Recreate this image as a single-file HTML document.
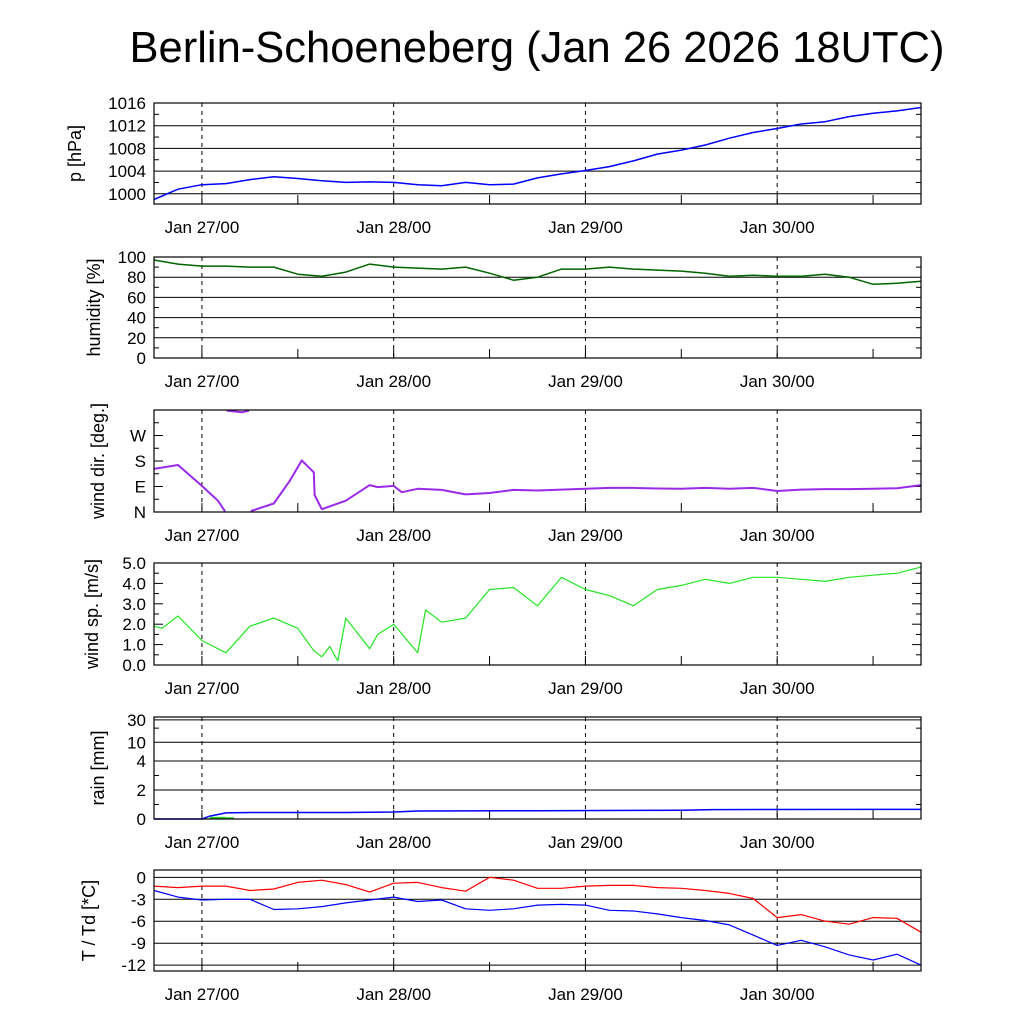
<!DOCTYPE html>
<html><head><meta charset="utf-8"><style>
body{margin:0;background:#fff;}
svg text{font-family:"Liberation Sans",sans-serif;fill:#000;}
</style></head><body>
<svg id="c" width="1024" height="1024" viewBox="0 0 1024 1024">
<text x="537" y="62" font-size="43.5" text-anchor="middle">Berlin-Schoeneberg (Jan 26 2026 18UTC)</text>
</svg>
<script>
const hours3 = [0,3,6,9,12,15,18,21,24,27,30,33,36,39,42,45,48,51,54,57,60,63,66,69,72,75,78,81,84,87,90,93,96];
const pressure = [999.0,1000.8,1001.6,1001.8,1002.5,1003.0,1002.7,1002.3,1002.0,1002.1,1002.0,1001.6,1001.4,1002.0,1001.6,1001.7,1002.8,1003.5,1004.1,1004.8,1005.8,1007.0,1007.7,1008.6,1009.8,1010.8,1011.5,1012.3,1012.7,1013.6,1014.2,1014.6,1015.2];
const humidity = [97,93,91,91,90,90,83,81,85,93,90,89,88,90,84,77,80,88,88,90,88,87,86,84,81,82,81,81,83,80,73,74,76];
const dirHours = [0,3,6,8,8.9,9.1,11,11.9,12.1,15,17,18.5,20,20.1,21,24,27,28,30,31,33,36,39,42,45,48,51,54,57,60,63,66,69,72,75,78,81,84,87,90,93,96];
const windDir = [152,166,92,40,2,358,352,358,3,30,110,182,140,60,10,40,95,88,92,70,82,78,62,67,78,76,79,82,85,85,83,82,85,82,85,74,79,81,81,82,84,95];
const spdHours = [0,1,3,6,9,12,15,18,20,21,22,23,24,27,28,30,33,34,36,39,42,45,48,51,54,57,60,63,66,69,72,75,78,81,84,87,90,93,96];
const windSpeed = [1.9,1.8,2.4,1.2,0.6,1.9,2.3,1.8,0.7,0.4,0.9,0.2,2.3,0.8,1.5,2.0,0.6,2.7,2.1,2.3,3.7,3.8,2.9,4.3,3.7,3.4,2.9,3.7,3.9,4.2,4.0,4.3,4.3,4.2,4.1,4.3,4.4,4.5,4.8];
const rainHours = [0,6,7,9,12,24,30,33,48,66,70,96];
const rainCum = [0,0,0.2,0.42,0.45,0.45,0.48,0.55,0.57,0.6,0.65,0.66];
const rainBarHours = [6,7,8,9,30,31,32,33,66];
const rainBars = [0.05,0.15,0.15,0.12,0.03,0.03,0.02,0.02,0.02];
const temp = [-1.2,-1.4,-1.2,-1.2,-1.8,-1.6,-0.7,-0.4,-1.0,-2.0,-0.8,-0.7,-1.4,-1.9,0.0,-0.4,-1.5,-1.5,-1.2,-1.1,-1.1,-1.4,-1.5,-1.8,-2.2,-2.9,-5.5,-5.1,-6.0,-6.4,-5.5,-5.6,-7.5];
const dew = [-1.8,-2.7,-3.1,-3.0,-3.0,-4.4,-4.3,-4.0,-3.5,-3.1,-2.7,-3.3,-3.1,-4.3,-4.5,-4.3,-3.8,-3.7,-3.8,-4.5,-4.6,-5.0,-5.5,-5.9,-6.5,-7.9,-9.3,-8.6,-9.5,-10.6,-11.3,-10.5,-12.0];
const dayLabels = ["Jan 27/00","Jan 28/00","Jan 29/00","Jan 30/00"];
const dayHours = [6,30,54,78];

const NS="http://www.w3.org/2000/svg", svg=document.getElementById('c');
const X0=154,X1=921,TH=96;
const xs=h=>X0+(X1-X0)*h/TH;
function el(t,a,p){const e=document.createElementNS(NS,t);for(const k in a)e.setAttribute(k,a[k]);(p||svg).appendChild(e);return e;}
function rainMap(v){ if(v<=4) return (v/4)*58/102; return (58+47*Math.log10(v/4))/102; }
const panels=[
 {n:'pressure',top:103,bot:204,lo:998.2,hi:1016,ticks:[1000,1004,1008,1012,1016],lab:['1000','1004','1008','1012','1016'],grid:true,title:'p [hPa]',tx:81,minor:[1002,1006,1010,1014]},
 {n:'humidity',top:257,bot:358,lo:0,hi:100,ticks:[0,20,40,60,80,100],lab:['0','20','40','60','80','100'],grid:true,title:'humidity [%]',tx:100,minor:[10,30,50,70,90]},
 {n:'wind-dir',top:410,bot:512,lo:0,hi:360,ticks:[0,90,180,270],lab:['N','E','S','W'],grid:false,title:'wind dir. [deg.]',tx:104,minor:[45,135,225,315]},
 {n:'wind-speed',top:563,bot:665,lo:0,hi:5,ticks:[0,1,2,3,4,5],lab:['0.0','1.0','2.0','3.0','4.0','5.0'],grid:false,title:'wind sp. [m/s]',tx:98,minor:[0.5,1.5,2.5,3.5,4.5]},
 {n:'rain',top:717,bot:819,lo:0,hi:1,ticks:[0,2,4,10,30],lab:['0','2','4','10','30'],grid:true,title:'rain [mm]',tx:104,map:rainMap,minor:[1,3,20]},
 {n:'temperature',top:870,bot:971,lo:-12.8,hi:1,ticks:[-12,-9,-6,-3,0],lab:['-12','-9','-6','-3','0'],grid:true,title:'T / Td [*C]',tx:95,minor:[]}
];
panels.forEach(p=>{
 const g=el('g',{});
 
 
 p.y=v=>{const m=p.map?p.map(v):v;return p.bot-(p.bot-p.top)*(m-p.lo)/(p.hi-p.lo);};
 p.g=g;
 p.ticks.forEach((t,i)=>{
  const y=p.y(t);
  if(p.grid) el('line',{x1:X0,x2:X1,y1:y,y2:y,stroke:'#000','stroke-width':1},g);
  else{el('line',{x1:X0,x2:X0+9,y1:y,y2:y,stroke:'#000'},g);el('line',{x1:X1-9,x2:X1,y1:y,y2:y,stroke:'#000'},g);}
  const tx=el('text',{x:X0-8,y:y+6,'font-size':17,'text-anchor':'end'},g);tx.textContent=p.lab[i];
  
  
 });
 p.minor.forEach(t=>{const y=p.y(t);el('line',{x1:X0,x2:X0+5,y1:y,y2:y,stroke:'#000'},g);el('line',{x1:X1-5,x2:X1,y1:y,y2:y,stroke:'#000'},g);});
 dayHours.forEach((h,i)=>{
  const x=xs(h);
  el('line',{x1:x,x2:x,y1:p.top,y2:p.bot,stroke:'#000','stroke-dasharray':'4,4'},g);
  el('line',{x1:x,x2:x,y1:p.bot-9,y2:p.bot,stroke:'#000'},g);
  el('line',{x1:xs(h+12),x2:xs(h+12),y1:p.bot-9,y2:p.bot,stroke:'#000'},g);
  const t=el('text',{x:x,y:p.bot+29,'font-size':17,'text-anchor':'middle'},g);t.textContent=dayLabels[i];
  
  
 });
 const cy=(p.top+p.bot)/2;
 const at=el('text',{x:0,y:0,'font-size':18,'text-anchor':'middle',transform:`translate(${p.tx},${cy}) rotate(-90)`},g);at.textContent=p.title;
 
 
});
function line(p,hs,vs,color,w,name){
 let segs=[],cur=[];
 hs.forEach((h,i)=>{ if(i>0&&Math.abs(vs[i]-vs[i-1])>180){segs.push(cur);cur=[];} cur.push(xs(h).toFixed(1)+','+p.y(vs[i]).toFixed(1)); });
 segs.push(cur);
 segs.forEach(s=>{const e=el('polyline',{points:s.join(' '),fill:'none',stroke:color,'stroke-width':w,'stroke-linejoin':'round'},p.g);
  
  });
}
line(panels[0],hours3,pressure,'#0000ff',1.5,'pressure-line');
line(panels[1],hours3,humidity,'#006400',1.5,'humidity-line');
line(panels[2],dirHours,windDir,'#9a2ae8',2,'wind-direction-line');
line(panels[3],spdHours,windSpeed,'#22e622',1.2,'wind-speed-line');
rainBarHours.forEach((h,i)=>{const p=panels[4];const y=p.y(rainBars[i]);
 const r=el('rect',{x:xs(h),y:y,width:xs(1)-X0,height:p.bot-y,fill:'#22cc22'},p.g);
 
 });
line(panels[4],rainHours,rainCum,'#0000ff',1.5,'rain-cumulative-line');
line(panels[5],hours3,temp,'#ff0000',1.2,'temperature-line');
line(panels[5],hours3,dew,'#0000ff',1.2,'dewpoint-line');
panels.forEach(p=>{el('rect',{x:X0,y:p.top,width:X1-X0,height:p.bot-p.top,fill:'none',stroke:'#000','stroke-width':1.2},p.g);});
</script>
</body></html>
